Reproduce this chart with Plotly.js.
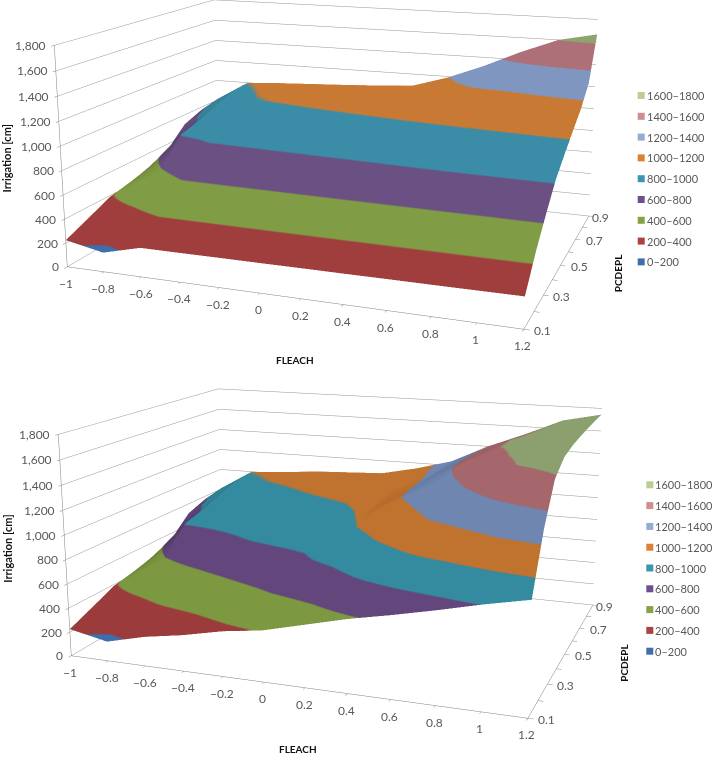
<!DOCTYPE html>
<html><head><meta charset="utf-8">
<script src="https://cdn.plot.ly/plotly-3.0.1.min.js"></script>
<style>
html,body{margin:0;padding:0;background:#fff;width:713px;height:757px;overflow:hidden}
.clip{position:absolute;left:0;width:713px;overflow:hidden}
.plot{position:absolute}
</style></head><body>
<div class="clip" style="top:0;height:378px"><div class="plot" id="p1"></div></div>
<div class="clip" style="top:378px;height:379px"><div class="plot" id="p2"></div></div>
<script>
const fleach = [-1,-0.8,-0.6,-0.4,-0.2,0,0.2,0.4,0.6,0.8,1,1.2];
const pcdepl = [0.1,0.2,0.3,0.4,0.5,0.6,0.7,0.8,0.9];
const irrigationTop = [
 [225,160,240,240,241,241,242,242,243,243,244,245],
 [306,345,420,425,430,435,440,445,450,455,460,465],
 [389,490,590,597,603,610,617,623,630,637,643,650],
 [427,620,735,745,754,764,773,783,792,802,811,820],
 [473,810,850,860,869,879,888,898,907,917,926,935],
 [553,860,930,943,956,968,981,994,1007,1019,1032,1045],
 [712,915,990,1008,1026,1043,1061,1079,1097,1114,1132,1150],
 [774,975,1010,1025,1040,1055,1075,1130,1210,1230,1265,1300],
 [810,1000,1020,1035,1050,1068,1090,1190,1320,1470,1600,1668]
];
const irrigationBottom = [
 [225,160,240,294,365,412,495,578,646,720,800,870],
 [306,345,420,470,540,620,690,830,960,1060,1190,1290],
 [389,490,555,625,695,755,865,1010,1170,1300,1440,1580],
 [427,620,715,780,820,850,985,1120,1270,1440,1610,1680],
 [473,810,830,855,890,920,1035,1215,1360,1530,1660,1710],
 [553,860,890,920,955,990,1060,1225,1420,1590,1670,1725],
 [712,915,945,980,1015,1040,1085,1230,1425,1590,1675,1735],
 [774,975,1000,1030,1045,1060,1130,1235,1415,1560,1676,1742],
 [810,1000,1020,1050,1065,1080,1150,1240,1400,1531,1676,1746]
];
const bandLabels = ['0–200','200–400','400–600','600–800','800–1000','1000–1200','1200–1400','1400–1600','1600–1800'];
const surfaceColorsTop = ['#3E6FAC','#A03E3E','#809C44','#6B5084','#3B8CA6','#C87A34','#7F97C0','#AE7078','#8DA46C'];
const surfaceColorsBottom = ['#3E6FAC','#9C3B3C','#7C9840','#62467C','#348A9F','#C0722F','#6E86B0','#A5666C','#8C9F6E'];
const legendColors = ['#3E6FAC','#AE4042','#85A346','#6E5090','#3C95AF','#DB8136','#95ABD2','#CE8F90','#B9CD96'];
const zTicks = [0,200,400,600,800,1000,1200,1400,1600,1800];
const zTickText = ['0','200','400','600','800','1,000','1,200','1,400','1,600','1,800'];
const xTicks = [-1,-0.8,-0.6,-0.4,-0.2,0,0.2,0.4,0.6,0.8,1,1.2];
const xTickText = ['−1','−0.8','−0.6','−0.4','−0.2','0','0.2','0.4','0.6','0.8','1','1.2'];
const yTicks = [0.1,0.3,0.5,0.7,0.9];
const yTickText = ['0.1','0.3','0.5','0.7','0.9'];
const yTickShift = [8,8,8,8,1];
const FONT = 'Lato, "Open Sans", sans-serif';
const W = 900, H = 1011;

function colorscale(colors){
  const cs = [];
  colors.forEach((c,i)=>{ cs.push([i/colors.length,c]); cs.push([(i+1)/colors.length,c]); });
  return cs;
}
function axis(range, dtick, grid){
  return {range, autorange:false, dtick, tick0:range[0], showgrid:grid, gridcolor:'#949494', gridwidth:1,
    zeroline:false, showline:true, linecolor:'#808080', linewidth:1, ticks:'outside', ticklen:4, tickcolor:'#808080',
    showticklabels:false, showbackground:false, showspikes:false, title:{text:''}};
}
function draw(id, z, colors, cfg){
  const el = document.getElementById(id);
  el.style.cssText = `left:${cfg.cx-W/2}px;top:${cfg.cy-H/2-cfg.clipTop}px;width:${W}px;height:${H}px`;
  const left = cfg.cx-W/2, top = cfg.cy-H/2;
  const px = x => (x-left)/W, py = y => 1-(y-top)/H;
  const sceneAnn = [];
  const t = (x,y,z,text,xa,ya,xs,ys)=>sceneAnn.push({x,y,z,text,showarrow:false,xanchor:xa,yanchor:ya,xshift:xs,yshift:ys,
    font:{family:FONT,size:12,color:'#595959'}});
  zTicks.forEach((v,i)=>t(-1,0.1,v,zTickText[i],'right','middle',-6,0));
  xTicks.forEach((v,i)=>t(v,0.1,0,xTickText[i],'center','top',-1,-7));
  yTicks.forEach((v,i)=>t(1.2,v,0,yTickText[i],'left','middle',yTickShift[i],-1));
  const titleFont = s => ({family:FONT,size:s,color:'#111'});
  const ann = [
    {x:px(cfg.fleach[0]),y:py(cfg.fleach[1]),xref:'paper',yref:'paper',xanchor:'center',yanchor:'middle',text:'<b>FLEACH</b>',showarrow:false,font:titleFont(10)},
    {x:px(cfg.irr[0]),y:py(cfg.irr[1]),xref:'paper',yref:'paper',xanchor:'center',yanchor:'middle',text:'<b>Irrigation [cm]</b>',textangle:-90,showarrow:false,font:titleFont(11)},
    {x:px(cfg.pc[0]),y:py(cfg.pc[1]),xref:'paper',yref:'paper',xanchor:'center',yanchor:'middle',text:'<b>PCDEPL</b>',textangle:-90,showarrow:false,font:titleFont(10)}
  ];
  const shapes = [];
  bandLabels.forEach((lab,i)=>{
    const yc = cfg.legY + (bandLabels.length-1-i)*cfg.legStep;
    ann.push({x:px(cfg.legX+7),y:py(yc),xref:'paper',yref:'paper',xanchor:'left',yanchor:'middle',text:lab,showarrow:false,
      font:{family:FONT,size:11,color:'#595959'}});
    shapes.push({type:'rect',xref:'paper',yref:'paper',x0:px(cfg.legX),x1:px(cfg.legX+7),y0:py(yc-3.5),y1:py(yc+3.5),
      fillcolor:legendColors[i],line:{width:0}});
  });
  Plotly.newPlot(el,[{type:'surface',x:fleach,y:pcdepl,z:z,cmin:0,cmax:1800,colorscale:colorscale(colors),
      showscale:false,hoverinfo:'skip',opacity:1,
      lighting:{ambient:0.35,diffuse:0.85,specular:0,roughness:1,fresnel:0},lightposition:{x:10000,y:1000,z:1000},
      contours:{x:{highlight:false},y:{highlight:false},z:{highlight:false}}}],
    {width:W,height:H,margin:{l:0,r:0,t:0,b:0},paper_bgcolor:'rgba(0,0,0,0)',showlegend:false,
     annotations:ann,shapes:shapes,
     scene:{domain:{x:[0,1],y:[0,1]},aspectmode:'manual',aspectratio:{x:1,y:0.7387,z:0.484},
       camera:{eye:{x:0.936,y:-2.498,z:0.675},center:{x:0.029,y:0.020,z:0.038},up:{x:0,y:0,z:1}},
       xaxis:axis([-1,1.2],0.2,false),yaxis:axis([0.1,0.9],0.1,false),zaxis:axis([0,1800],200,true),
       bgcolor:'rgba(0,0,0,0)',annotations:sceneAnn}},
    {displayModeBar:false,responsive:false});
}
draw('p1',irrigationTop,surfaceColorsTop,{cx:359,cy:120,clipTop:0,fleach:[295,359],irr:[6,158],pc:[617.7,273],legX:637.7,legY:95,legStep:20.8});
draw('p2',irrigationBottom,surfaceColorsBottom,{cx:362.7,cy:509,clipTop:378,fleach:[298,748],irr:[7,548],pc:[623,662],legX:646,legY:484.3,legStep:20.8});
</script></body></html>
